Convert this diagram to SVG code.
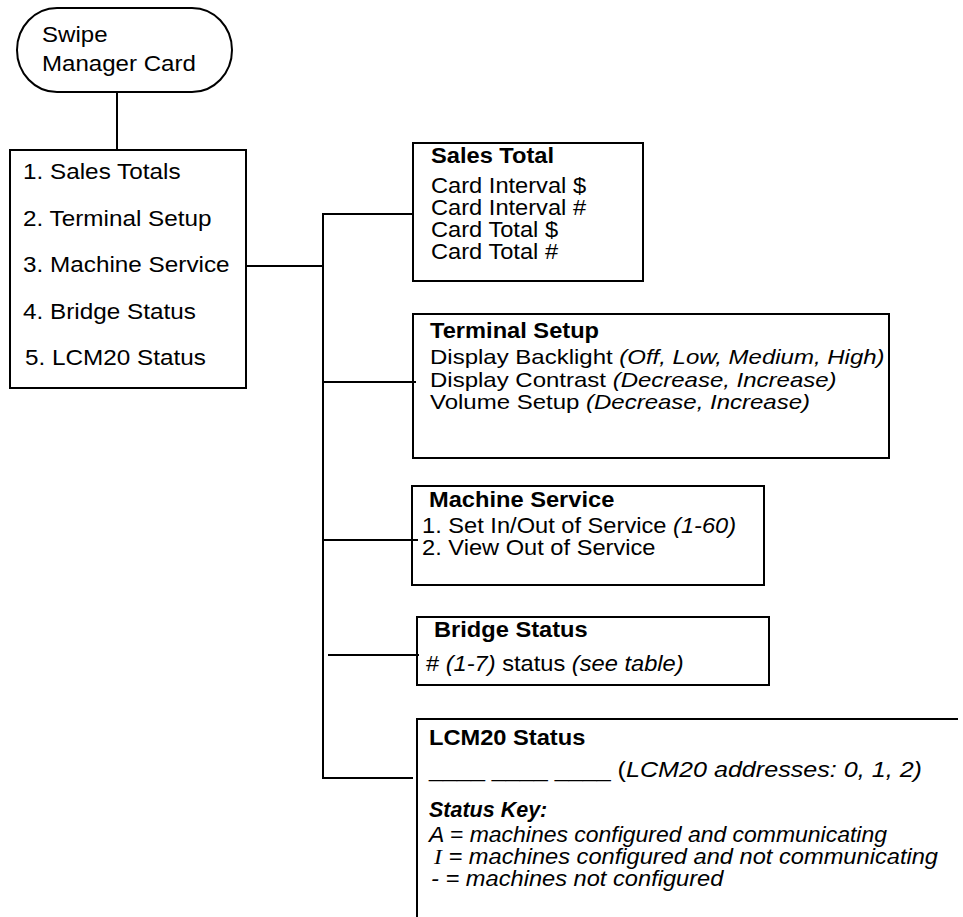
<svg xmlns="http://www.w3.org/2000/svg" width="963" height="917" viewBox="0 0 963 917">
<style>
.box{fill:none;stroke:#000;stroke-width:2}
.ln{fill:none;stroke:#000;stroke-width:2}
text{font-family:"Liberation Sans",Arial,Helvetica,sans-serif;font-size:21.5px;fill:#000}
.sm{font-size:20px}
.b{font-weight:bold}
.i{font-style:italic}
.serif{font-family:"Liberation Serif","Times New Roman",serif}
</style>
<rect width="963" height="917" fill="#fff"/>
<g id="connectors">
<line class="ln" x1="117" y1="92" x2="117" y2="150"/>
<line class="ln" x1="246" y1="266" x2="323" y2="266"/>
<path class="ln" d="M413,214 H323 V778 H413"/>
<line class="ln" x1="323" y1="382" x2="416" y2="382"/>
<line class="ln" x1="323" y1="540" x2="418" y2="540"/>
<line class="ln" x1="328" y1="655" x2="419" y2="655"/>
</g>
<g id="start">
<rect class="box" x="17" y="8" width="215" height="84" rx="40" ry="42"/>
<text transform="translate(42,42) scale(1.12,1)">Swipe</text>
<text transform="translate(42,71) scale(1.12,1)">Manager Card</text>
</g>
<g id="menu">
<rect class="box" x="10" y="150" width="236" height="238"/>
<text transform="translate(23,179) scale(1.13,1)">1. Sales Totals</text>
<text transform="translate(23,225.5) scale(1.13,1)">2. Terminal Setup</text>
<text transform="translate(23,272) scale(1.13,1)">3. Machine Service</text>
<text transform="translate(23,318.5) scale(1.13,1)">4. Bridge Status</text>
<text transform="translate(25,365) scale(1.13,1)">5. LCM20 Status</text>
</g>
<g id="sales-total">
<rect class="box" x="413" y="143" width="230" height="138"/>
<text class="b" transform="translate(431,163) scale(1.1,1)">Sales Total</text>
<text transform="translate(431,193) scale(1.1,1)">Card Interval $</text>
<text transform="translate(431,215) scale(1.1,1)">Card Interval #</text>
<text transform="translate(431,237) scale(1.1,1)">Card Total $</text>
<text transform="translate(431,259) scale(1.1,1)">Card Total #</text>
</g>
<g id="terminal-setup">
<rect class="box" x="413" y="314" width="476" height="144"/>
<text class="b" transform="translate(430,338) scale(1.1,1)">Terminal Setup</text>
<text class="sm" transform="translate(430,364) scale(1.2,1)">Display Backlight <tspan class="i">(Off, Low, Medium, High)</tspan></text>
<text class="sm" transform="translate(430,386.5) scale(1.2,1)">Display Contrast <tspan class="i">(Decrease, Increase)</tspan></text>
<text class="sm" transform="translate(430,409) scale(1.2,1)">Volume Setup <tspan class="i">(Decrease, Increase)</tspan></text>
</g>
<g id="machine-service">
<rect class="box" x="412" y="486" width="352" height="99"/>
<text class="b" transform="translate(429,507) scale(1.1,1)">Machine Service</text>
<text transform="translate(422,533) scale(1.1,1)">1. Set In/Out of Service <tspan class="i">(1-60)</tspan></text>
<text transform="translate(422,555) scale(1.1,1)">2. View Out of Service</text>
</g>
<g id="bridge-status">
<rect class="box" x="417" y="617" width="352" height="68"/>
<text class="b" transform="translate(434,637) scale(1.1,1)">Bridge Status</text>
<text transform="translate(426,671) scale(1.1,1)"># <tspan class="i">(1-7)</tspan> status <tspan class="i">(see table)</tspan></text>
</g>
<g id="lcm20-status">
<path class="box" d="M958,719 H417 V917"/>
<text class="b" transform="translate(429,745) scale(1.1,1)">LCM20 Status</text>
<text x="429" y="777" textLength="493" lengthAdjust="spacingAndGlyphs">____ ____ ____ (<tspan class="i">LCM20 addresses: 0, 1, 2)</tspan></text>
<text class="b i" x="429" y="817">Status Key:</text>
<text class="i" x="429" y="842" textLength="458" lengthAdjust="spacingAndGlyphs">A = machines configured and communicating</text>
<text class="i" transform="translate(434,864) scale(1.1,1)"><tspan class="serif">I</tspan> = machines configured and not communicating</text>
<text class="i" transform="translate(431,886) scale(1.1,1)">- = machines not configured</text>
</g>
</svg>
